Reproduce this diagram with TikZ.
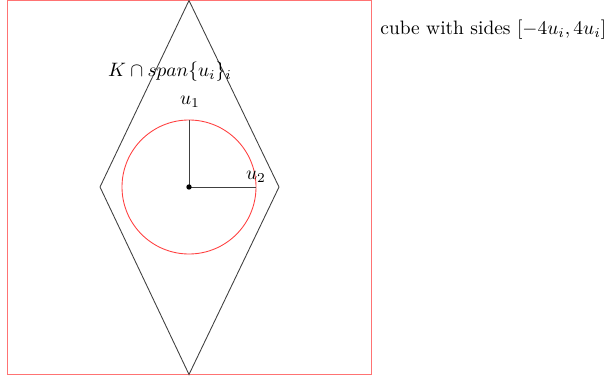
\documentclass[tikz,border=0pt]{standalone}
\begin{document}
\begin{tikzpicture}[x=0.515pt,y=-0.515pt,
  redline/.style={draw=red!55, line width=0.45pt},
  blackline/.style={draw=black!75, line width=0.45pt},
  lbl/.style={inner sep=0pt}]
\useasboundingbox (0,0) rectangle (609,381);
\begin{scope}
\clip (0,0) rectangle (609,381);
% cube
\draw[redline] (7.5,0.5) rectangle (371,374.5);
% diamond
\coordinate (T) at (189,0.5);
\coordinate (L) at (100,187);
\coordinate (B) at (189,374.5);
\coordinate (R) at (279,187);
\draw[blackline] (T) -- (R) -- (B) -- (L) -- cycle;
% center and circle
\coordinate (O) at (189,187);
\draw[draw=red!75, line width=0.45pt] (O) circle[radius=67];
\coordinate (U1) at (189,120);
\coordinate (U2) at (256,187);
\draw[blackline] (O) -- (U1);
\draw[blackline] (O) -- (U2);
\fill (O) circle[radius=2.7];
\node[lbl] (lu1) at (190,102) {$u_1$};
\node[lbl] (lu2) at (256,177) {$u_2$};
\node[lbl] (lk) at (170,72) {$K\cap span\{u_i\}_i$};
\node[lbl,anchor=west] (cube) at (380,30) {cube with sides $[-4u_i,4u_i]$};
\end{scope}
\end{tikzpicture}
\end{document}
